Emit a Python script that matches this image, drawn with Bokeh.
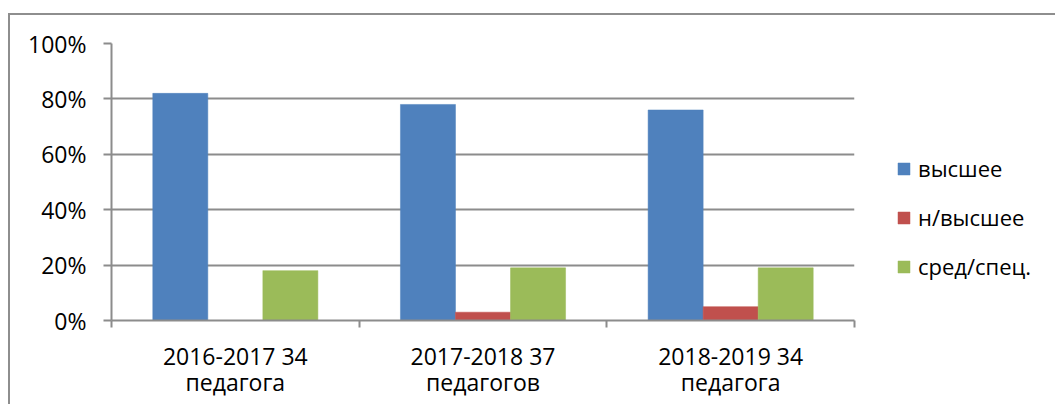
from bokeh.plotting import figure
from bokeh.models import Range1d, FixedTicker, Legend, LegendItem, ColumnDataSource, NumeralTickFormatter
from bokeh.transform import dodge
from bokeh.embed import file_html
from bokeh.resources import INLINE

categories = ["2016-2017 34\nпедагога", "2017-2018 37\nпедагогов", "2018-2019 34\nпедагога"]
series_names = ["высшее", "н/высшее", "сред/спец."]
vysshee = [82, 78, 76]
n_vysshee = [0, 3, 5]
sred_spec = [18, 19, 19]
colors = ["#4F81BD", "#C0504D", "#9BBB59"]
y_ticks = [0, 20, 40, 60, 80, 100]

FONT = "Open Sans"
GRAY = "#8c8c8c"

x_centers = [i + 0.5 for i in range(len(categories))]
src = ColumnDataSource(dict(x=x_centers, a=vysshee, b=n_vysshee, c=sred_spec))

p = figure(
    frame_width=743, frame_height=277,
    min_border_left=101, min_border_right=180, min_border_top=28, min_border_bottom=84,
    x_range=Range1d(0, len(categories)), y_range=Range1d(0, 100),
    output_backend="svg", toolbar_location=None,
    styles={"border-left": "2px solid #8e8e8e", "border-top": "2px solid #8e8e8e"},
)
p.margin = (13, 0, 0, 8)
p.outline_line_color = None
p.background_fill_color = "white"
p.border_fill_color = "white"

bw = 0.2222
offsets = [-bw, 0, bw]
fields = ["a", "b", "c"]
items = []
for f, off, col, name in zip(fields, offsets, colors, series_names):
    r = p.vbar(x=dodge("x", off), top=f, width=bw, bottom=0, source=src,
               fill_color=col, line_color=col, line_width=0.5)
    items.append(LegendItem(label=name, renderers=[r]))

# y axis
p.yaxis.ticker = FixedTicker(ticks=y_ticks)
p.yaxis.formatter = NumeralTickFormatter(format="0")
p.yaxis.major_label_overrides = {t: f"{t}%" for t in y_ticks}
p.yaxis.axis_line_color = GRAY
p.yaxis.axis_line_width = 2
p.yaxis.major_tick_line_color = GRAY
p.yaxis.major_tick_line_width = 2
p.yaxis.major_tick_out = 8
p.yaxis.major_tick_in = 0
p.yaxis.minor_tick_line_color = None
p.yaxis.major_label_standoff = 17
p.yaxis.major_label_text_font = FONT
p.yaxis.major_label_text_font_size = "23px"
p.yaxis.major_label_text_color = "black"

# x axis
p.xaxis.ticker = FixedTicker(ticks=x_centers, minor_ticks=list(range(len(categories) + 1)))
p.xaxis.major_label_overrides = {x: c for x, c in zip(x_centers, categories)}
p.xaxis.axis_line_color = GRAY
p.xaxis.axis_line_width = 2
p.xaxis.major_tick_line_color = None
p.xaxis.major_tick_out = 0
p.xaxis.major_tick_in = 0
p.xaxis.minor_tick_line_color = GRAY
p.xaxis.minor_tick_line_width = 2
p.xaxis.minor_tick_out = 7
p.xaxis.minor_tick_in = 0
p.xaxis.major_label_standoff = 12
p.xaxis.major_label_text_font = FONT
p.xaxis.major_label_text_font_size = "23px"
p.xaxis.major_label_text_color = "black"
p.xaxis.major_label_text_line_height = 0.82

p.xgrid.grid_line_color = None
p.ygrid.ticker = FixedTicker(ticks=y_ticks)
p.ygrid.grid_line_color = GRAY
p.ygrid.grid_line_width = 2

legend = Legend(items=items, location=(42, 39), margin=0, padding=0,
                glyph_width=15, glyph_height=15, label_height=30, spacing=19,
                label_standoff=7, label_text_font=FONT, label_text_font_size="22px",
                label_text_color="black", border_line_color=None, background_fill_alpha=0)
p.add_layout(legend, "right")

open("out.html", "w").write(file_html(p, INLINE))
